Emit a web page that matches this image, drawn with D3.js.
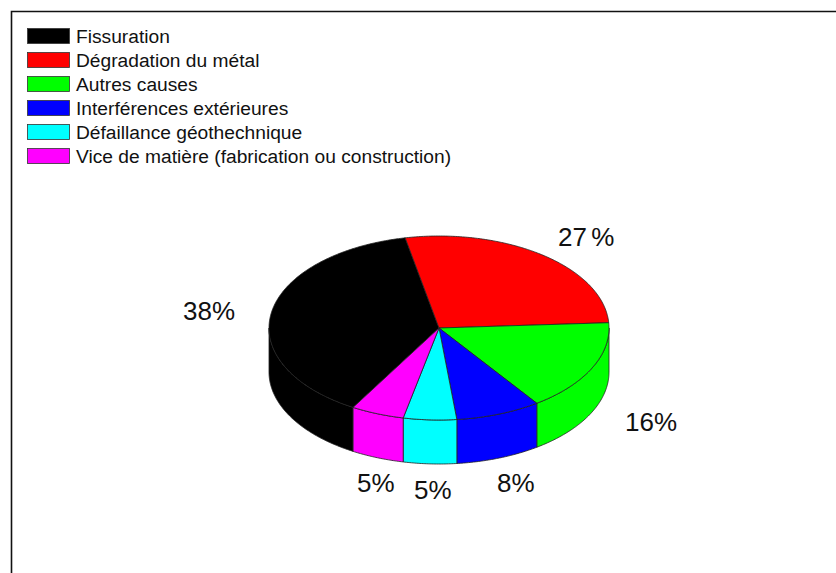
<!DOCTYPE html>
<html>
<head>
<meta charset="utf-8">
<script src="https://cdn.jsdelivr.net/npm/d3@7"></script>
<style>
  html, body { margin: 0; padding: 0; background: #fff; }
  svg { display: block; font-family: "Liberation Sans", Arial, sans-serif; }
</style>
</head>
<body>
<svg id="chart" width="836" height="573"></svg>
<script>
// Causes of incidents, share in percent
const causes = [
  "Fissuration",
  "Dégradation du métal",
  "Autres causes",
  "Interférences extérieures",
  "Défaillance géothechnique",
  "Vice de matière (fabrication ou construction)"
];
const shares = [38, 27, 16, 8, 5, 5];
const shareLabels = ["38%", "27 %", "16%", "8%", "5%", "5%"];
const colors = ["#000000", "#ff0000", "#00ff00", "#0000ff", "#00ffff", "#ff00ff"];

const svg = d3.select("#chart");

// Frame (left and top edges visible)
svg.append("path")
  .attr("d", "M11.5,573 L11.5,11.5 L836,11.5")
  .attr("fill", "none")
  .attr("stroke", "#111")
  .attr("stroke-width", 1.6);

// Legend
const legend = svg.append("g");
const rowY = d3.scaleBand().domain(d3.range(causes.length)).range([28, 28 + 24 * causes.length]);
causes.forEach((c, i) => {
  legend.append("rect")
    .attr("x", 27.5).attr("y", rowY(i) + 0.5)
    .attr("width", 42).attr("height", 15)
    .attr("fill", colors[i])
    .attr("stroke", "#333").attr("stroke-width", 0.8);
  legend.append("text")
    .attr("x", 76).attr("y", rowY(i) + 15)
    .attr("font-size", 19.2)
    .attr("fill", "#111")
    .text(c);
});

// 3D pie
const cx = 439, cy = 328, rx = 170, ry = 92, depth = 44;
const rot = -3.3 * Math.PI / 180;
const total = d3.sum(shares);
const start = Math.PI / 2 + rot - (shares[0] + shares[1]) / total * 2 * Math.PI;
const pie = d3.pie().sort(null).startAngle(start).endAngle(start + 2 * Math.PI);
const arcs = pie(shares);

const px = a => cx + rx * Math.sin(a);
const py = a => cy - ry * Math.cos(a);
const samples = (a0, a1) => {
  const n = Math.max(2, Math.ceil(Math.abs(a1 - a0) / 0.01));
  return d3.range(n + 1).map(k => a0 + (a1 - a0) * k / n);
};
const line = d3.line();

// Side walls: only the front half of the ellipse shows
const walls = svg.append("g");
arcs.forEach((d, i) => {
  for (let k = -1; k <= 1; k++) {
    const f0 = Math.PI / 2 + 2 * Math.PI * k, f1 = 3 * Math.PI / 2 + 2 * Math.PI * k;
    const a0 = Math.max(d.startAngle, f0), a1 = Math.min(d.endAngle, f1);
    if (a1 <= a0) continue;
    const ts = samples(a0, a1);
    const topPts = ts.map(a => [px(a), py(a)]);
    const botPts = ts.slice().reverse().map(a => [px(a), py(a) + depth]);
    walls.append("path")
      .attr("d", line(topPts.concat(botPts)) + "Z")
      .attr("fill", colors[i])
      .attr("stroke", "#222").attr("stroke-width", 0.8)
      .attr("stroke-linejoin", "round");
  }
});

// Top faces
const tops = svg.append("g");
arcs.forEach((d, i) => {
  const pts = [[cx, cy]].concat(samples(d.startAngle, d.endAngle).map(a => [px(a), py(a)]));
  tops.append("path")
    .attr("d", line(pts) + "Z")
    .attr("fill", colors[i])
    .attr("stroke", "#222").attr("stroke-width", 0.8)
    .attr("stroke-linejoin", "round");
});

// Percentage labels
const labelPos = [[183, 320], [558, 246], [625, 431], [497, 492], [414, 499], [357, 492]];
shareLabels.forEach((t, i) => {
  svg.append("text")
    .attr("x", labelPos[i][0]).attr("y", labelPos[i][1])
    .attr("font-size", 26)
    .attr("word-spacing", -3)
    .attr("fill", "#111")
    .text(t);
});
</script>
</body>
</html>
